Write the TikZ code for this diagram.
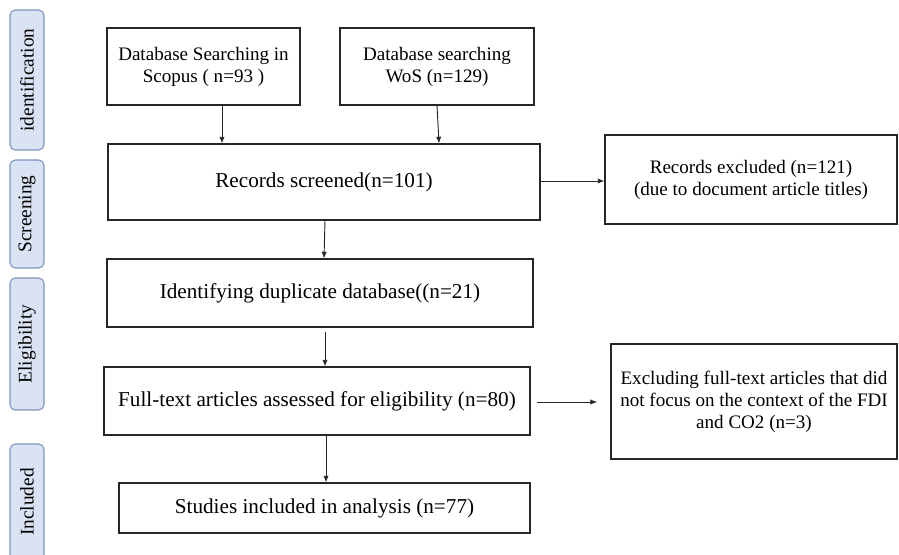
\documentclass[tikz,border=0pt]{standalone}
\usepackage{fontspec}
\setmainfont{Liberation Serif}
\usepackage{xcolor}
\usepackage{tikz}
\usetikzlibrary{arrows.meta}
\definecolor{frame}{HTML}{262626}
\definecolor{stage}{HTML}{DAE3F3}
\definecolor{stageline}{HTML}{7C94BF}

\begin{document}
\begin{tikzpicture}[x=0.75pt, y=-0.75pt,
  box/.style={draw=frame, line width=0.8pt, inner sep=0pt, align=center, font=\fontsize{15.9}{19}\selectfont},
  sidebox/.style={box, font=\fontsize{14.3}{16.5}\selectfont},
  stagebox/.style={draw=stageline, fill=stage, line width=0.8pt, rounded corners=4pt, rotate=90, inner sep=0pt, minimum height=25.5pt, font=\fontsize{14.5}{17}\selectfont},
  arr/.style={-{Latex[length=5pt,width=4pt]}, line width=0.7pt, frame}]
  \useasboundingbox (0,0) rectangle (899,555);

  \node[stagebox, minimum width=105pt] (ident) at (27,80) {identification};
  \node[stagebox, minimum width=81pt] (screen) at (27,214) {Screening};
  \node[stagebox, minimum width=99pt] (elig) at (27,344) {Eligibility};
  \node[stagebox, minimum width=87pt] (incl) at (27,502) {Included};

  \node[sidebox, minimum width=144.75pt, minimum height=57.75pt] (scopus) at (203.5,66.5) {Database Searching in\\Scopus ( n=93 )};
  \node[sidebox, minimum width=145.5pt, minimum height=57.75pt] (wos) at (437,66.5) {Database searching\\WoS (n=129)};
  \node[box, minimum width=324pt, minimum height=57pt] (screened) at (324,182) {Records screened(n=101)};
  \node[sidebox, minimum width=219pt, minimum height=66.75pt] (excl1) at (751,179.5) {Records excluded (n=121)\\(due to document article titles)};
  \node[box, minimum width=319.5pt, minimum height=51pt] (dup) at (320,293) {Identifying duplicate database((n=21)};
  \node[box, minimum width=319.5pt, minimum height=51pt] (full) at (317,401) {Full-text articles assessed for eligibility (n=80)};
  \node[sidebox, minimum width=214.5pt, minimum height=86.25pt] (excl2) at (754,401.5) {Excluding full-text articles that did\\not focus on the context of the FDI\\and CO2 (n=3)};
  \node[box, minimum width=308.25pt, minimum height=37.5pt] (studies) at (324.5,508) {Studies included in analysis (n=77)};

  \draw[arr] (scopus.south -| 222,0) -- (screened.north -| 222,0);
  \draw[arr] (wos.south -| 437,0) -- (screened.north -| 439,0);
  \draw[arr] (screened.south -| 325,0) -- (dup.north -| 324,0);
  \draw[arr, shorten <=3pt] (dup.south -| 325,0) -- (full.north -| 325,0);
  \draw[arr] (full.south -| 326,0) -- (studies.north -| 326,0);
  \draw[arr] (screened.east |- 0,181) -- (excl1.west |- 0,181);
  \draw[arr, shorten <=5pt, shorten >=10pt] (full.east |- 0,402) -- (excl2.west |- 0,402);
\end{tikzpicture}
\end{document}
